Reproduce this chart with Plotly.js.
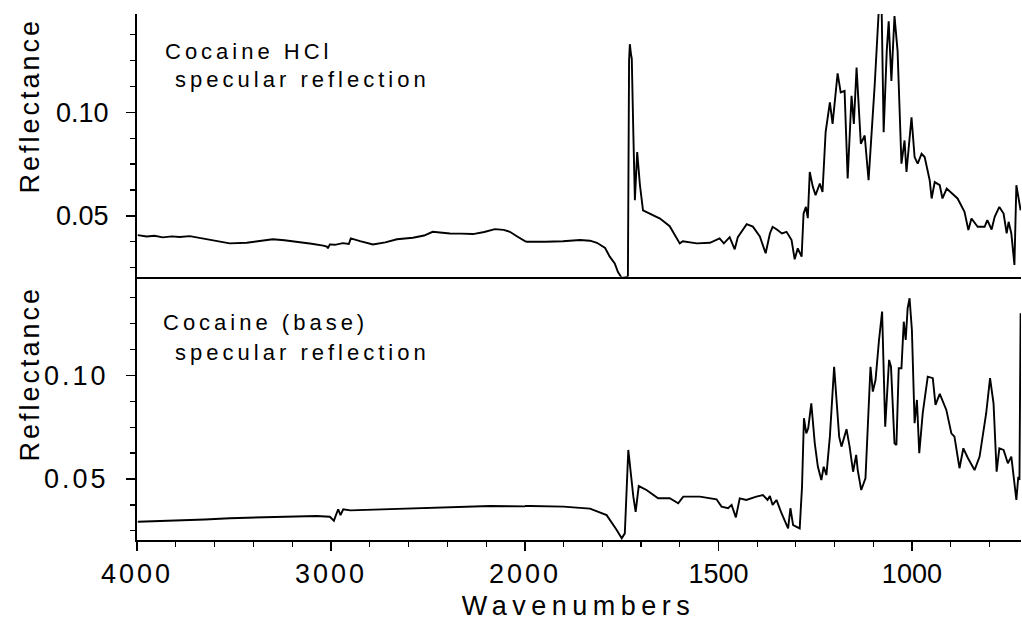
<!DOCTYPE html>
<html>
<head>
<meta charset="utf-8">
<script src="https://cdn.plot.ly/plotly-3.0.1.min.js"></script>
<style>
  html, body { margin: 0; padding: 0; background: #fff; }
  #chart { width: 1022px; height: 624px; }
  .xtick text, .ytick text { letter-spacing: 3px; }
  .annotation-text { letter-spacing: 4px; }
  .annotation[data-index="4"] .annotation-text,
  .annotation[data-index="5"] .annotation-text { letter-spacing: 3px; }
  .annotation[data-index="6"] .annotation-text { letter-spacing: 5.5px; }
</style>
</head>
<body>
<div id="chart"></div>
<script>
// ---- data ----
var wnHCl = [3996,3950,3910,3867,3820,3780,3728,3661,3600,3522,3434,3360,3300,3240,3176,3100,3040,3021,3016,3006,2980,2939,2908,2898,2850,2784,2720,2660,2578,2520,2476,2440,2387,2330,2268,2210,2155,2110,2078,2040,1995,1948,1902,1858,1832,1814,1793,1781,1768,1760,1750,1737,1734,1731,1729,1726,1724,1720,1716,1710,1703,1695,1677,1651,1626,1600,1592,1574,1556,1522,1497,1486,1471,1458,1450,1427,1411,1393,1378,1367,1360,1349,1336,1324,1311,1303,1295,1285,1280,1274,1269,1264,1256,1249,1238,1231,1223,1212,1205,1192,1184,1174,1166,1156,1150,1143,1132,1122,1112,1096,1086,1078,1073,1065,1060,1053,1045,1037,1027,1019,1014,1001,993,985,975,967,954,949,941,928,921,910,895,882,864,854,846,830,812,805,794,786,774,763,755,750,743,735,730,725,719];
var refHCl = [0.0407,0.0400,0.0404,0.0396,0.0401,0.0398,0.0402,0.0391,0.0380,0.0367,0.0370,0.0380,0.0387,0.0382,0.0375,0.0365,0.0356,0.0351,0.0343,0.0362,0.0360,0.0368,0.0364,0.0391,0.0378,0.0362,0.0372,0.0387,0.0394,0.0405,0.0423,0.0420,0.0415,0.0414,0.0412,0.0422,0.0436,0.0432,0.0423,0.0400,0.0375,0.0375,0.0377,0.0383,0.0380,0.0370,0.0345,0.0303,0.0270,0.0230,0.0200,0.0205,0.0210,0.1250,0.1329,0.1280,0.1260,0.0900,0.0575,0.0808,0.0650,0.0527,0.0510,0.0487,0.0450,0.0367,0.0377,0.0372,0.0367,0.0370,0.0391,0.0367,0.0397,0.0338,0.0397,0.0460,0.0448,0.0400,0.0319,0.0415,0.0447,0.0434,0.0415,0.0423,0.0383,0.0290,0.0343,0.0303,0.0511,0.0543,0.0489,0.0712,0.0640,0.0600,0.0656,0.0615,0.0904,0.1048,0.0944,0.1188,0.1096,0.1104,0.0680,0.1080,0.0944,0.1216,0.0848,0.0888,0.0672,0.1136,0.1480,0.1480,0.0904,0.1297,0.1440,0.1152,0.1465,0.1297,0.0752,0.0864,0.0712,0.0976,0.0784,0.0752,0.0800,0.0784,0.0672,0.0584,0.0663,0.0648,0.0584,0.0632,0.0608,0.0584,0.0519,0.0431,0.0487,0.0447,0.0447,0.0479,0.0434,0.0495,0.0543,0.0511,0.0415,0.0471,0.0415,0.0263,0.0648,0.0584,0.0527];

var wnBase = [3996,3900,3780,3650,3522,3400,3264,3150,3075,3006,2985,2971,2963,2951,2937,2900,2834,2750,2662,2580,2490,2400,2318,2250,2180,2080,1987,1901,1832,1789,1763,1750,1742,1733,1720,1714,1706,1686,1656,1626,1604,1591,1548,1505,1492,1475,1466,1455,1445,1428,1402,1385,1373,1367,1360,1350,1337,1320,1314,1307,1290,1284,1279,1273,1268,1260,1251,1243,1234,1228,1221,1212,1201,1195,1188,1182,1169,1161,1152,1144,1140,1131,1120,1114,1107,1101,1094,1085,1077,1069,1059,1054,1045,1040,1034,1027,1021,1016,1011,1006,1000,993,987,981,972,959,946,939,928,911,898,890,877,867,855,838,825,808,798,789,781,774,763,752,743,730,725,722,719];
var refBase = [0.0294,0.0297,0.0299,0.0305,0.0311,0.0314,0.0318,0.0321,0.0322,0.0318,0.0299,0.0335,0.0354,0.0326,0.0354,0.0349,0.0351,0.0353,0.0354,0.0357,0.0359,0.0361,0.0364,0.0368,0.0370,0.0369,0.0370,0.0367,0.0357,0.0326,0.0254,0.0214,0.0238,0.0640,0.0415,0.0342,0.0466,0.0447,0.0407,0.0407,0.0383,0.0415,0.0415,0.0402,0.0367,0.0359,0.0375,0.0315,0.0407,0.0399,0.0415,0.0423,0.0399,0.0418,0.0375,0.0399,0.0335,0.0262,0.0359,0.0278,0.0262,0.0463,0.0793,0.0720,0.0744,0.0865,0.0672,0.0559,0.0495,0.0559,0.0519,0.0704,0.1041,0.0881,0.0704,0.0656,0.0740,0.0656,0.0535,0.0616,0.0543,0.0447,0.0503,0.0752,0.1041,0.0921,0.0977,0.1170,0.1307,0.0752,0.1074,0.1041,0.0672,0.0664,0.1034,0.1034,0.1258,0.1170,0.1323,0.1371,0.1218,0.0769,0.0881,0.0624,0.0817,0.0993,0.0986,0.0857,0.0910,0.0833,0.0720,0.0704,0.0552,0.0648,0.0600,0.0543,0.0608,0.0817,0.0986,0.0865,0.0535,0.0648,0.0640,0.0576,0.0608,0.0399,0.0511,0.0495,0.1299];

var xTicksHigh = [4000, 3000, 2000];
var xTicksLow = [1500, 1000];
var yTickVals = [0.05, 0.10];
var yTickText = ['0.05', '0.10'];
var panelLabels = [['Cocaine HCl', ' specular reflection'], ['Cocaine (base)', ' specular reflection']];
var yTitle = 'Reflectance';
var xTitle = 'Wavenumbers';

// ---- layout helpers ----
var W = 1022, H = 624;
var L = 137, R = 1, T = 14, B = 84;
var plotW = W - L - R, plotH = H - T - B;
function px(x) { return (x - L) / plotW; }
function py(y) { return (H - B - y) / plotH; }
var split = px(525);
var mid = py(276.7);
var yRange = [0.0206, 0.1475];
var FONT = 'Liberation Sans, Arial, Helvetica, sans-serif';

var lineStyle = {color: '#000', width: 1.9};
function tr(x, y, xa, ya) {
  return {x: x, y: y, xaxis: xa, yaxis: ya, type: 'scatter', mode: 'lines',
          line: lineStyle, hoverinfo: 'skip', showlegend: false};
}
var data = [
  tr(wnHCl, refHCl, 'x3', 'y2'),
  tr(wnHCl, refHCl, 'x4', 'y2'),
  tr(wnBase, refBase, 'x', 'y'),
  tr(wnBase, refBase, 'x2', 'y')
];

function xAx(dom, rng, anchor, tv, minorD, labels) {
  var a = {
    domain: dom, range: rng, anchor: anchor, showgrid: false, zeroline: false,
    showline: true, linecolor: '#000', linewidth: 2, mirror: false,
    fixedrange: true
  };
  if (labels) {
    a.tickmode = 'array'; a.tickvals = tv; a.ticktext = tv.map(String);
    a.ticks = 'outside'; a.ticklen = 9; a.tickwidth = 1.5; a.tickcolor = '#000';
    a.tickfont = {family: FONT, size: 27, color: '#000'};
    a.minor = {dtick: minorD, tick0: 0, ticks: 'outside', ticklen: 5, tickwidth: 1.2, tickcolor: '#000', showgrid: false};
  } else {
    a.showticklabels = false; a.ticks = '';
  }
  return a;
}
function yAx(dom) {
  return {
    domain: dom, range: yRange, anchor: 'x', showgrid: false, zeroline: false,
    showline: true, linecolor: '#000', linewidth: 2,
    tickmode: 'array', tickvals: yTickVals, ticktext: yTickText,
    ticks: 'outside', ticklen: 9, tickwidth: 1.5, tickcolor: '#000',
    ticklabelstandoff: 12,
    tickfont: {family: FONT, size: 27, color: '#000'},
    minor: {dtick: 0.0125, tick0: 0, ticks: 'outside', ticklen: 5, tickwidth: 1.2, tickcolor: '#000', showgrid: false},
    fixedrange: true
  };
}

var ann = [];
function txt(t, x, y, opts) {
  var a = {text: t, xref: 'paper', yref: 'paper', x: px(x), y: py(y), showarrow: false,
           xanchor: 'left', yanchor: 'middle',
           font: {family: FONT, size: 22, color: '#000'}};
  for (var k in opts) a[k] = opts[k];
  ann.push(a);
}
txt(panelLabels[0][0], 163, 52);
txt(panelLabels[0][1], 163, 80);
txt(panelLabels[1][0], 161, 322);
txt(panelLabels[1][1], 163, 352);
txt(yTitle, 30, 106, {textangle: -90, xanchor: 'center', font: {family: FONT, size: 27, color: '#000'}});
txt(yTitle, 30, 374, {textangle: -90, xanchor: 'center', font: {family: FONT, size: 27, color: '#000'}});
txt(xTitle, 578, 606, {xanchor: 'center', font: {family: FONT, size: 27, color: '#000'}});

var yb = yAx([0, mid]);
var yt = yAx([mid, 1]);
var layout = {
  width: W, height: H,
  margin: {l: L, r: R, t: T, b: B, pad: 0},
  paper_bgcolor: '#fff', plot_bgcolor: '#fff',
  showlegend: false,
  font: {family: FONT, color: '#000'},
  xaxis: xAx([0, split], [4000, 2000], 'y', xTicksHigh, 200, true),
  xaxis2: xAx([split, 1], [2000, 718], 'y', xTicksLow, 100, true),
  xaxis3: xAx([0, split], [4000, 2000], 'y2', null, 0, false),
  xaxis4: xAx([split, 1], [2000, 718], 'y2', null, 0, false),
  yaxis: yb,
  yaxis2: yt,
  annotations: ann
};
layout.yaxis2.anchor = 'x3';

Plotly.newPlot('chart', data, layout, {staticPlot: true, displayModeBar: false});
</script>
</body>
</html>
